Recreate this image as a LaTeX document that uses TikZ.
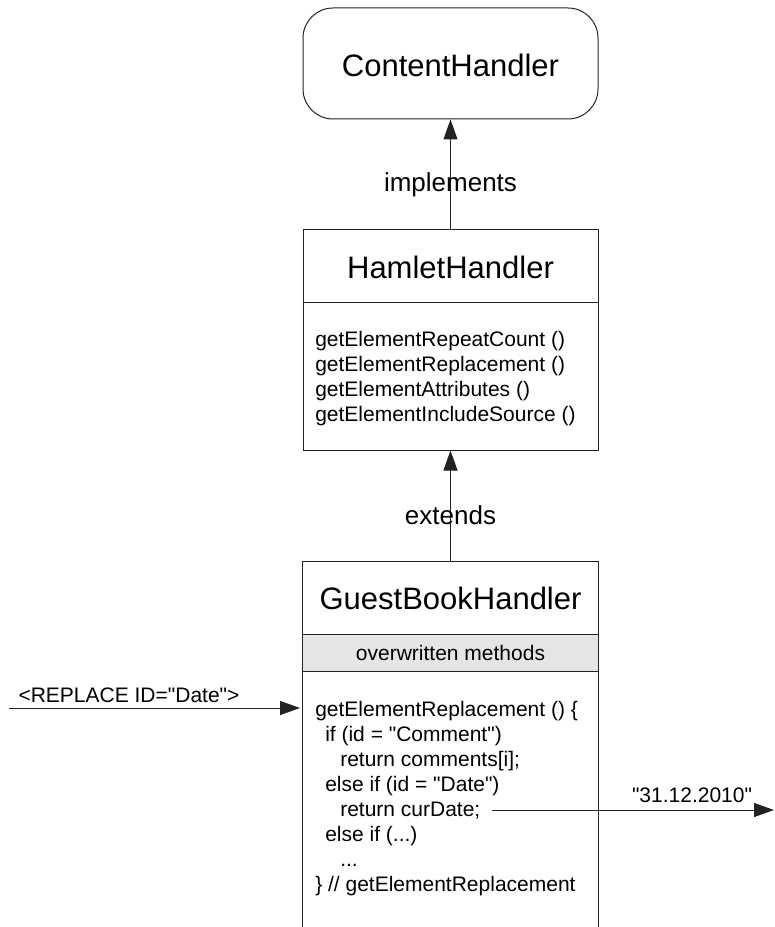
\documentclass[tikz,border=0pt]{standalone}
\usepackage{fontspec}
\setmainfont{Liberation Sans}[Ligatures=TeXOff]
\usetikzlibrary{arrows.meta}
\definecolor{band}{HTML}{E5E5E5}
\definecolor{ln}{HTML}{222222}
\begin{document}
\begin{tikzpicture}[x=0.75pt,y=-0.75pt,
  box/.style={draw=ln, line width=0.75pt, inner sep=0pt, minimum width=221.25pt},
  title/.style={font=\fontsize{23.25}{28}\selectfont, inner sep=0pt},
  lbl/.style={font=\fontsize{19.5}{24}\selectfont, inner sep=0pt},
  small/.style={font=\fontsize{15.75}{18.75}\selectfont, inner sep=0pt},
  code/.style={small, anchor=base west},
  arr/.style={draw=ln, line width=0.75pt, -{Triangle[length=15pt,width=10.5pt]}},
]
\useasboundingbox (0,0) rectangle (774,927);
% ContentHandler
\node[box, rounded corners=22.5pt, minimum height=83.25pt] (content) at (450.5,63.5) {};
\node[title] (contentT) at (450.5,65) {ContentHandler};
% HamletHandler
\node[box, minimum height=165pt] (hamlet) at (450.5,340) {};
\draw[ln, line width=0.75pt] ([yshift=-54.75pt]hamlet.north west) -- ([yshift=-54.75pt]hamlet.north east);
\node[title] (hamletT) at (450.5,267) {HamletHandler};
\node[code] (h1) at (315,346) {getElementRepeatCount ()};
\node[code] (h2) at (315,371) {getElementReplacement ()};
\node[code] (h3) at (315,396) {getElementAttributes ()};
\node[code] (h4) at (315,421) {getElementIncludeSource ()};
% GuestBookHandler
\node[inner sep=0pt, minimum width=221.25pt, minimum height=273.75pt] (gb) at (450.5,744.5) {};
\fill[band] ([yshift=-54.75pt]gb.north west) rectangle ([yshift=-82.5pt]gb.north east);
\draw[ln, line width=0.75pt] ([yshift=-54.75pt]gb.north west) -- ([yshift=-54.75pt]gb.north east);
\draw[ln, line width=0.75pt] ([yshift=-82.5pt]gb.north west) -- ([yshift=-82.5pt]gb.north east);
\draw[ln, line width=0.75pt] (gb.south west) -- (gb.north west) -- (gb.north east) -- (gb.south east);
\node[title] (gbT) at (450.5,598) {GuestBookHandler};
\node[small] (ow) at (450.5,653) {overwritten methods};
\node[code] (m1) at (315,716) {getElementReplacement () \{};
\node[code] (m2) at (325,741) {if (id = "Comment")};
\node[code] (m3) at (340,766) {return comments[i];};
\node[code] (m4) at (325,791) {else if (id = "Date")};
\node[code] (m5) at (340,816) {return curDate;};
\node[code] (m6) at (325,841) {else if (...)};
\node[code] (m7) at (340,866) {...};
\node[code] (m8) at (315,891) {\} // getElementReplacement};
% connectors
\draw[arr] (hamlet.north) -- node[lbl, pos=0.405] (impl) {implements} (content.south);
\draw[arr] (gb.north) -- node[lbl, pos=0.42] (ext) {extends} (hamlet.south);
\coordinate (src) at (9,708);
\coordinate (gbin) at (300,708);
\draw[arr] (src) -- (gbin);
\node[small] (replace) at (129,695) {<REPLACE ID="Date">};
\coordinate (curdate) at (492,810);
\coordinate (out) at (774,810);
\draw[arr] (curdate) -- (out);
\node[small] (date) at (692,795) {"31.12.2010"};
\end{tikzpicture}
\end{document}
